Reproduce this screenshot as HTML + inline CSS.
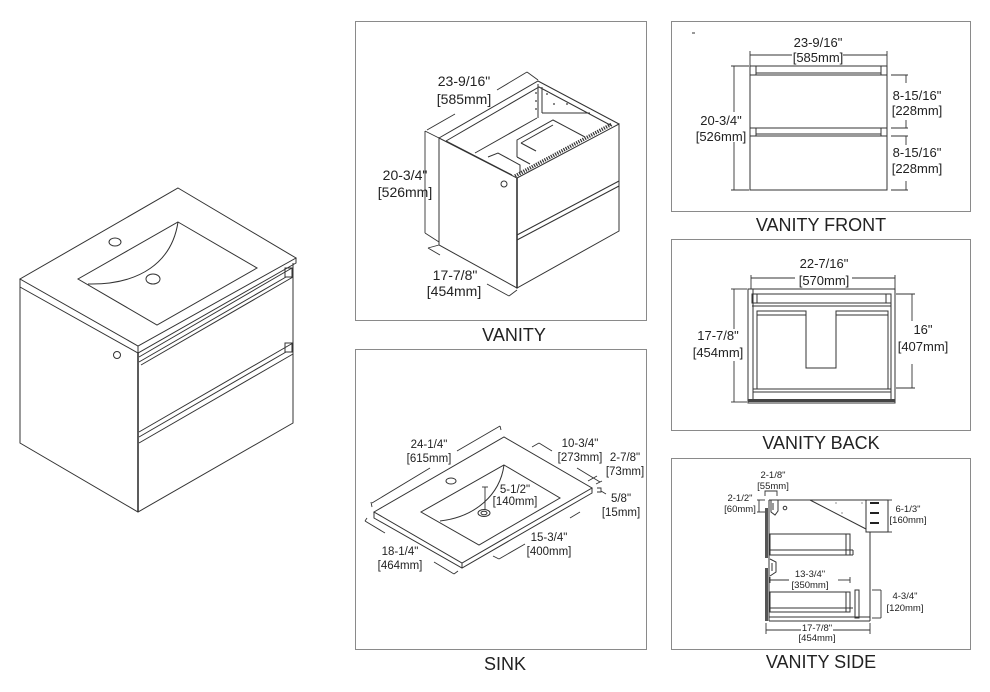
<!DOCTYPE html>
<html><head><meta charset="utf-8">
<style>
html,body{margin:0;padding:0;background:#fff}
svg{display:block}
text{font-family:"Liberation Sans",Arial,sans-serif;fill:#222;text-anchor:middle}
.l{fill:none;stroke:#333;stroke-width:1}
.d{fill:none;stroke:#333;stroke-width:0.9}
.b{fill:none;stroke:#8a8a8a;stroke-width:1}
.lab{font-size:18px}
.t14{font-size:14px}
.t13{font-size:13px}
.t11{font-size:11.5px}
.t9{font-size:9.5px}
</style></head>
<body>
<svg width="990" height="692" viewBox="0 0 990 692" xmlns="http://www.w3.org/2000/svg">
<rect x="0" y="0" width="990" height="692" fill="#fff"/>

<!-- panels -->
<rect x="355.5" y="21.5" width="291" height="299" class="b"/>
<rect x="671.5" y="21.5" width="299" height="190" class="b"/>
<rect x="671.5" y="239.5" width="299" height="191" class="b"/>
<rect x="355.5" y="349.5" width="291" height="300" class="b"/>
<rect x="671.5" y="458.5" width="299" height="191" class="b"/>

<text x="514" y="341" class="lab">VANITY</text>
<text x="821" y="231" class="lab">VANITY FRONT</text>
<text x="821" y="449" class="lab">VANITY BACK</text>
<text x="505" y="670" class="lab">SINK</text>
<text x="821" y="668" class="lab">VANITY SIDE</text>

<!-- LEFT BIG DRAWING -->
<g class="l">
  <polygon points="178,188 296,258 138,346 20,279"/>
  <polyline points="20,279 20,287 138,353 296,263 296,258"/>
  <line x1="138" y1="346" x2="138" y2="353"/>
  <polyline points="20,287 20,443 138,512 293,423 293,263"/>
  <line x1="138" y1="353" x2="138" y2="512" stroke-width="1.6"/>
  <polygon points="178,222 257,268 157,325 78,279"/>
  <path d="M178,222 C172,262 140,285 88,284"/>
  <ellipse cx="115" cy="242" rx="6" ry="4"/>
  <ellipse cx="153" cy="279" rx="7" ry="5"/>
  <circle cx="117" cy="355" r="3.5"/>
  <line x1="139" y1="357" x2="292" y2="268"/>
  <line x1="139" y1="362" x2="286" y2="277"/>
  <line x1="141" y1="365" x2="293" y2="277"/>
  <rect x="285" y="268" width="7" height="9"/>
  <line x1="139" y1="432" x2="293" y2="343"/>
  <line x1="139" y1="437" x2="286" y2="352"/>
  <line x1="139" y1="443" x2="293" y2="354"/>
  <rect x="285" y="343" width="7" height="9"/>
</g>

<!-- VANITY -->
<g class="l">
  <polygon points="439,138 517,178 517,288 439,245"/>
  <polygon points="517,178 619,124 619,231 517,288"/>
  <polyline points="439,138 538,81 619,124"/>
  <polyline points="446,141 539,87 612,126"/>
  <line x1="446" y1="141" x2="512" y2="175"/>
  <line x1="538" y1="84" x2="538" y2="114"/>
  <line x1="542" y1="87" x2="542" y2="113"/>
  <line x1="542" y1="113" x2="590" y2="113"/>
  <line x1="475" y1="153" x2="537" y2="118"/>
  <line x1="538" y1="114" x2="538" y2="118"/>
  <polyline points="488,157 498,153 520,165 520,173"/>
  <polyline points="517,157 517,140 553,120 585,137"/>
  <line x1="521" y1="143" x2="553" y2="125"/>
  <line x1="521" y1="143" x2="536" y2="151"/>
  <line x1="517" y1="157" x2="530" y2="164"/>
  <line x1="517" y1="235" x2="619" y2="181"/>
  <line x1="517" y1="240" x2="619" y2="186"/>
  <circle cx="504" cy="184" r="3"/>
  <line x1="517" y1="178" x2="517" y2="288" stroke-width="1.6"/>
</g>
<line x1="515" y1="176" x2="612" y2="124" stroke="#333" stroke-width="3.5" stroke-dasharray="1.2 1.2"/>
<g fill="#333">
  <circle cx="536" cy="93" r="0.9"/><circle cx="536" cy="101" r="0.9"/><circle cx="536" cy="109" r="0.9"/>
  <circle cx="547" cy="94" r="0.9"/><circle cx="554" cy="104" r="0.9"/><circle cx="567" cy="104" r="0.9"/>
</g>
<g class="d">
  <line x1="427" y1="130" x2="455" y2="114"/>
  <line x1="497" y1="90" x2="527" y2="72"/>
  <line x1="527" y1="72" x2="538" y2="80"/>
  <line x1="425" y1="131" x2="425" y2="233"/>
  <line x1="425" y1="131" x2="439" y2="138"/>
  <line x1="425" y1="233" x2="439" y2="242"/>
  <line x1="428" y1="248" x2="440" y2="255"/>
  <line x1="428" y1="248" x2="439" y2="245"/>
  <line x1="487" y1="284" x2="509" y2="296"/>
  <line x1="509" y1="296" x2="517" y2="290"/>
</g>
<text x="464" y="86" class="t14">23-9/16"</text>
<text x="464" y="104" class="t14">[585mm]</text>
<rect x="380" y="168" width="44" height="32" fill="#fff"/>
<text x="405" y="180" class="t14">20-3/4"</text>
<text x="405" y="197" class="t14">[526mm]</text>
<text x="455" y="280" class="t14">17-7/8"</text>
<text x="454" y="296" class="t14">[454mm]</text>

<!-- VANITY FRONT -->
<g class="l">
  <rect x="750" y="66" width="137" height="124"/>
  <line x1="750" y1="75" x2="887" y2="75"/>
  <line x1="756" y1="73" x2="881" y2="73"/>
  <line x1="756" y1="66" x2="756" y2="75"/>
  <line x1="881" y1="66" x2="881" y2="75"/>
  <line x1="750" y1="128" x2="887" y2="128"/>
  <line x1="750" y1="136" x2="887" y2="136"/>
  <line x1="756" y1="134" x2="881" y2="134"/>
  <line x1="756" y1="128" x2="756" y2="136"/>
  <line x1="881" y1="128" x2="881" y2="136"/>
</g>
<line x1="692" y1="33" x2="695" y2="33" stroke="#333"/>
<g class="d">
  <line x1="750" y1="55" x2="792" y2="55"/><line x1="843" y1="55" x2="887" y2="55"/>
  <line x1="750" y1="51" x2="750" y2="66"/><line x1="887" y1="51" x2="887" y2="66"/>
  <line x1="734" y1="66" x2="734" y2="112"/><line x1="734" y1="142" x2="734" y2="190"/>
  <line x1="731" y1="66" x2="749" y2="66"/><line x1="731" y1="190" x2="749" y2="190"/>
  <line x1="891" y1="75" x2="908" y2="75"/><line x1="891" y1="128" x2="908" y2="128"/>
  <line x1="891" y1="136" x2="908" y2="136"/><line x1="891" y1="190" x2="908" y2="190"/>
  <line x1="906" y1="75" x2="906" y2="83"/><line x1="906" y1="120" x2="906" y2="128"/>
  <line x1="906" y1="136" x2="906" y2="145"/><line x1="906" y1="181" x2="906" y2="190"/>
</g>
<text x="818" y="47" class="t13">23-9/16"</text>
<text x="818" y="62" class="t13">[585mm]</text>
<text x="721" y="125" class="t13">20-3/4"</text>
<text x="721" y="141" class="t13">[526mm]</text>
<text x="917" y="100" class="t13">8-15/16"</text>
<text x="917" y="115" class="t13">[228mm]</text>
<text x="917" y="157" class="t13">8-15/16"</text>
<text x="917" y="173" class="t13">[228mm]</text>

<!-- VANITY BACK -->
<g class="l">
  <rect x="748" y="289" width="147" height="114"/>
  <line x1="753" y1="289" x2="753" y2="399"/>
  <line x1="891" y1="303" x2="891" y2="399"/>
  <rect x="752" y="294" width="139" height="9"/>
  <line x1="757" y1="294" x2="757" y2="303"/>
  <line x1="886" y1="294" x2="886" y2="303"/>
  <line x1="752" y1="306" x2="891" y2="306"/>
  <polyline points="757,389 757,311 806,311 806,368 836,368 836,311 888,311 888,389"/>
  <line x1="757" y1="315" x2="806" y2="315"/>
  <line x1="836" y1="315" x2="888" y2="315"/>
  <line x1="753" y1="389" x2="891" y2="389"/>
  <line x1="753" y1="392" x2="891" y2="392"/>
</g>
<rect x="748" y="399" width="147" height="3" fill="#444"/>
<g class="d">
  <line x1="751" y1="278" x2="795" y2="278"/><line x1="852" y1="278" x2="895" y2="278"/>
  <line x1="751" y1="275" x2="751" y2="289"/><line x1="895" y1="275" x2="895" y2="289"/>
  <line x1="734" y1="289" x2="734" y2="329"/><line x1="734" y1="361" x2="734" y2="402"/>
  <line x1="731" y1="289" x2="747" y2="289"/><line x1="731" y1="402" x2="747" y2="402"/>
  <line x1="912" y1="294" x2="912" y2="321"/><line x1="912" y1="364" x2="912" y2="388"/>
  <line x1="896" y1="294" x2="915" y2="294"/><line x1="896" y1="388" x2="915" y2="388"/>
</g>
<text x="824" y="268" class="t13">22-7/16"</text>
<text x="824" y="285" class="t13">[570mm]</text>
<text x="718" y="340" class="t13">17-7/8"</text>
<text x="718" y="357" class="t13">[454mm]</text>
<text x="923" y="334" class="t13">16"</text>
<text x="923" y="351" class="t13">[407mm]</text>

<!-- SINK -->
<g class="l">
  <polygon points="374,512 504,437 592,488 462,563"/>
  <polyline points="374,512 374,518 462,568 592,493 592,488"/>
  <line x1="462" y1="563" x2="462" y2="568"/>
  <polygon points="504,465 560,498 479,545 421,512"/>
  <path d="M504,465 C500,495 475,517 440,521"/>
  <ellipse cx="451" cy="481" rx="5" ry="3"/>
  <ellipse cx="484" cy="513" rx="6" ry="3.5"/>
  <ellipse cx="484" cy="513" rx="3" ry="1.8"/>
</g>
<g class="d">
  <line x1="485" y1="487" x2="485" y2="510"/><line x1="482" y1="487" x2="488" y2="487"/>
  <line x1="371" y1="502" x2="372" y2="507"/>
  <line x1="372" y1="503" x2="430" y2="468"/>
  <line x1="457" y1="451" x2="500" y2="426"/>
  <line x1="500" y1="426" x2="501" y2="430"/>
  <line x1="532" y1="447" x2="539" y2="443"/>
  <line x1="539" y1="443" x2="552" y2="451"/>
  <line x1="577" y1="468" x2="600" y2="482"/>
  <line x1="588" y1="481" x2="597" y2="476"/>
  <line x1="596" y1="484" x2="602" y2="481"/>
  <polyline points="597,488 601,488 601,492 597,492"/>
  <line x1="601" y1="491" x2="606" y2="494"/>
  <line x1="493" y1="556" x2="499" y2="559"/>
  <line x1="499" y1="559" x2="525" y2="544"/>
  <line x1="570" y1="518" x2="580" y2="512"/>
  <line x1="365" y1="521" x2="367" y2="518"/>
  <line x1="365" y1="521" x2="385" y2="533"/>
  <line x1="434" y1="562" x2="454" y2="574"/>
  <line x1="454" y1="574" x2="458" y2="571"/>
</g>
<text x="429" y="448" class="t11">24-1/4"</text>
<text x="429" y="462" class="t11">[615mm]</text>
<text x="580" y="447" class="t11">10-3/4"</text>
<text x="580" y="461" class="t11">[273mm]</text>
<text x="625" y="461" class="t11">2-7/8"</text>
<text x="625" y="475" class="t11">[73mm]</text>
<text x="621" y="502" class="t11">5/8"</text>
<text x="621" y="516" class="t11">[15mm]</text>
<text x="515" y="493" class="t11">5-1/2"</text>
<text x="515" y="505" class="t11">[140mm]</text>
<text x="549" y="541" class="t11">15-3/4"</text>
<text x="549" y="555" class="t11">[400mm]</text>
<text x="400" y="555" class="t11">18-1/4"</text>
<text x="400" y="569" class="t11">[464mm]</text>

<!-- VANITY SIDE -->
<g class="l">
  <line x1="769" y1="500" x2="866" y2="500"/>
  <rect x="866" y="500" width="22" height="32"/>
  <line x1="870" y1="532" x2="870" y2="621"/>
  <line x1="769" y1="621" x2="870" y2="621"/>
  <line x1="769" y1="617" x2="870" y2="617"/>
  <line x1="769" y1="500" x2="769" y2="621"/>
  <line x1="810" y1="500" x2="866" y2="529"/>
  <path d="M771,500 V512 L775,515 L778,511 V500 M773,503 V510"/>
  <circle cx="785" cy="508" r="1.8"/>
  <rect x="770" y="534" width="80" height="21"/>
  <line x1="770" y1="550" x2="853" y2="550"/>
  <rect x="846" y="534" width="4" height="21"/>
  <line x1="850" y1="555" x2="853" y2="555"/><line x1="853" y1="550" x2="853" y2="555"/>
  <path d="M770,559 L776,562 V572 L770,576 M772,563 V571"/>
  <rect x="770" y="592" width="80" height="20"/>
  <line x1="770" y1="608" x2="853" y2="608"/>
  <rect x="846" y="592" width="4" height="20"/>
  <rect x="855" y="590" width="4" height="28"/>
</g>
<rect x="765" y="508" width="3" height="50" fill="#555"/>
<rect x="765" y="568" width="3" height="53" fill="#555"/>
<g stroke="#222" stroke-width="2">
  <line x1="870" y1="503" x2="879" y2="503"/>
  <line x1="870" y1="513" x2="879" y2="513"/>
  <line x1="870" y1="523" x2="879" y2="523"/>
</g>
<g fill="#444">
  <circle cx="836" cy="503" r="0.6"/><circle cx="862" cy="503" r="0.6"/><circle cx="842" cy="513" r="0.6"/>
</g>
<g class="d">
  <line x1="770" y1="580" x2="789" y2="580"/><line x1="838" y1="580" x2="850" y2="580"/>
  <line x1="770" y1="577" x2="770" y2="583"/><line x1="850" y1="577" x2="850" y2="583"/>
  <line x1="766" y1="630" x2="801" y2="630"/><line x1="833" y1="630" x2="870" y2="630"/>
  <line x1="766" y1="623" x2="766" y2="634"/><line x1="870" y1="623" x2="870" y2="634"/>
  <polyline points="765,496 765,491 777,491 777,496"/>
  <line x1="759" y1="500" x2="759" y2="512"/>
  <line x1="757" y1="500" x2="765" y2="500"/><line x1="757" y1="512" x2="765" y2="512"/>
  <line x1="888" y1="500" x2="892" y2="500"/><line x1="888" y1="532" x2="892" y2="532"/>
  <line x1="872" y1="590" x2="881" y2="590"/><line x1="872" y1="618" x2="881" y2="618"/>
  <line x1="881" y1="590" x2="881" y2="618"/>
</g>
<text x="773" y="478" class="t9">2-1/8"</text>
<text x="773" y="489" class="t9">[55mm]</text>
<text x="740" y="501" class="t9">2-1/2"</text>
<text x="740" y="512" class="t9">[60mm]</text>
<text x="908" y="512" class="t9">6-1/3"</text>
<text x="908" y="523" class="t9">[160mm]</text>
<text x="810" y="577" class="t9">13-3/4"</text>
<text x="810" y="588" class="t9">[350mm]</text>
<text x="905" y="599" class="t9">4-3/4"</text>
<text x="905" y="611" class="t9">[120mm]</text>
<text x="817" y="631" class="t9">17-7/8"</text>
<text x="817" y="641" class="t9">[454mm]</text>
</svg>
</body></html>
